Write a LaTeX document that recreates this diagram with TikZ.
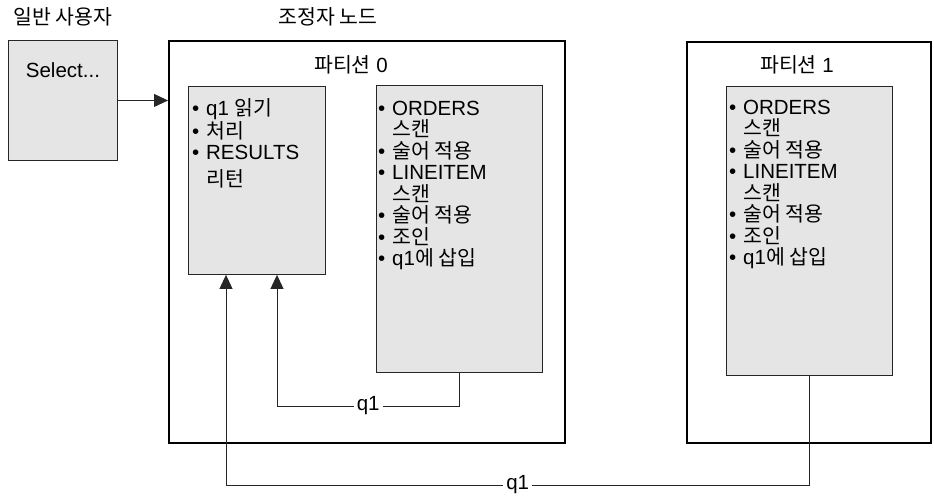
\documentclass[tikz,border=0pt]{standalone}
\usepackage{fontspec}
\setmainfont{Liberation Sans}
\newfontfamily\kr{Noto Sans CJK KR}
\usetikzlibrary{positioning,arrows.meta}

\newcommand{\ko}[1]{{\kr #1}}
\newcommand{\bul}{\rule{0pt}{18pt}\makebox[14pt][l]{\textbullet}}
\newcommand{\hang}{\hspace*{14pt}}
\newcommand{\execlist}{\bul ORDERS\\ \hang\ko{스캔}\\ \bul\ko{술어 적용}\\
  \bul LINEITEM\\ \hang\ko{스캔}\\ \bul\ko{술어 적용}\\ \bul\ko{조인}\\ \bul q1\ko{에 삽입}}

\begin{document}
\begin{tikzpicture}[x=1pt,y=-1pt,
    font=\fontsize{20.5}{21.5}\selectfont,
    >={Triangle[length=14pt,width=13pt]},
    part/.style={draw,line width=2pt,anchor=north west},
    task/.style={draw=black!85,fill=black!10,line width=0.9pt,anchor=north west},
    items/.style={align=left,inner sep=0pt},
    flow/.style={draw=black!85,line width=0.9pt},
    q/.style={fill=white,inner sep=3pt}]
  \useasboundingbox (0,0) rectangle (934,496);

  % headings
  \node (usr) at (63,17) {\ko{일반 사용자}};
  \node (crd) at (328,17) {\ko{조정자 노드}};

  % user
  \node[task,minimum width=109pt,minimum height=120pt] (sel) at (8,40) {};
  \node (seltxt) [below=19pt of sel.north] {Select...};

  % partitions
  \node[part,minimum width=396pt,minimum height=402pt] (coord) at (168,40) {};
  \node[part,minimum width=244pt,minimum height=401pt] (part1) at (686,41) {};
  \node (t0) at (351,65) {\ko{파티션} 0};
  \node (t1) at (797,65) {\ko{파티션} 1};

  \node[task,minimum width=137pt,minimum height=188pt] (read) at (188,86) {};
  \node[task,minimum width=166pt,minimum height=287pt] (exec0) at (376,85) {};
  \node[task,minimum width=166pt,minimum height=289pt] (exec1) at (726,86) {};

  \node[items,below right=11pt and 4pt of read.north west] (readtxt)
    {\bul q1 \ko{읽기}\\ \bul\ko{처리}\\ \bul RESULTS\\[5pt] \hang\ko{리턴}};
  \node[items,below right=12pt and 2pt of exec0.north west] (exec0txt) {\execlist};
  \node[items,below right=10pt and 3pt of exec1.north west] (exec1txt) {\execlist};

  % connectors
  \coordinate (in1) at ([xshift=38pt]read.south west);
  \coordinate (in0) at ([xshift=89pt]read.south west);
  \draw[flow,->] (sel.east) -- (sel.east -| coord.west);
  \draw[flow,->] (exec0.south) -- (exec0.south |- 0,406) -- node[q] {q1} (in0 |- 0,406) -- (in0);
  \draw[flow,->] (exec1.south) -- (exec1.south |- 0,485) -- node[q] {q1} (in1 |- 0,485) -- (in1);
\end{tikzpicture}
\end{document}
